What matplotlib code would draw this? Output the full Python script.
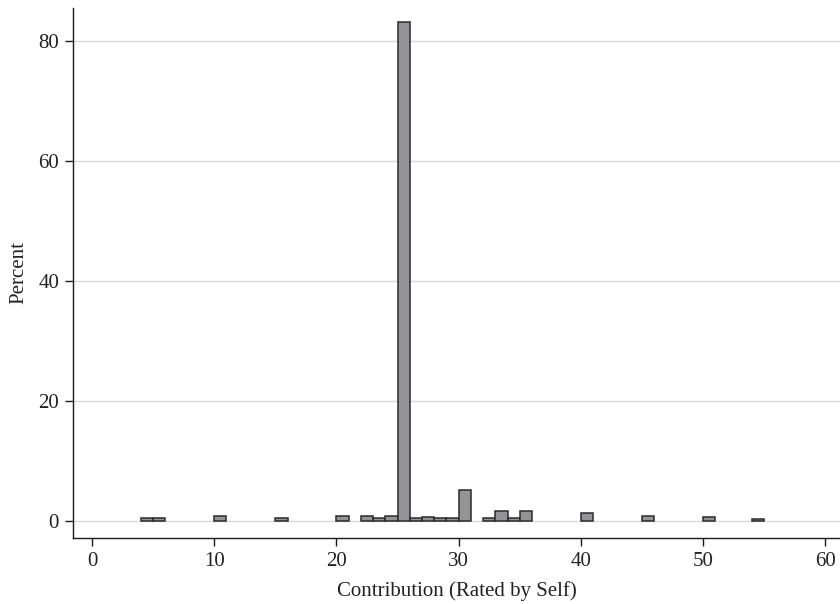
import numpy as np
import matplotlib.pyplot as plt

# left edges of the histogram bins (width 1) and their percentages
bin_left = [4, 5, 10, 15, 20, 22, 23, 24, 25, 26, 27, 28, 29, 30,
            32, 33, 34, 35, 40, 45, 50, 54]
percent = [0.45, 0.45, 0.9, 0.45, 0.9, 0.9, 0.45, 0.9, 83.2, 0.45, 0.7, 0.45, 0.55, 5.2,
           0.55, 1.6, 0.55, 1.6, 1.3, 0.85, 0.65, 0.4]
x_ticks = [0, 10, 20, 30, 40, 50, 60]
y_ticks = [0, 20, 40, 60, 80]

plt.rcParams['font.family'] = ['Liberation Serif', 'DejaVu Serif']

fig = plt.figure(figsize=(8.4, 6.04), dpi=100)
ax = fig.add_axes([73 / 840, 66 / 604, 767 / 840, 530 / 604])

ax.bar(bin_left, percent, width=1.0, align='edge', color='#939398',
       edgecolor='#2b2b2b', linewidth=1.1, zorder=3)

ax.set_xlim(-1.55, 61.2)
ax.set_ylim(-2.83, 85.5)
ax.set_xticks(x_ticks)
ax.set_yticks(y_ticks)
ax.yaxis.grid(True, color='#d9d9d9', linewidth=1.0, zorder=0)
ax.set_axisbelow(True)

for s in ['top', 'right']:
    ax.spines[s].set_visible(False)
for s in ['left', 'bottom']:
    ax.spines[s].set_color('#1a1a1a')
    ax.spines[s].set_linewidth(1.0)

ax.tick_params(axis='both', direction='out', length=6, width=1.0,
               color='#1a1a1a', labelsize=15, labelcolor='#222222')
ax.tick_params(axis='x', pad=4)
ax.tick_params(axis='y', pad=4)

ax.set_xlabel('Contribution (Rated by Self)', fontsize=15, color='#222222', labelpad=7)
ax.set_ylabel('Percent', fontsize=15, color='#222222', labelpad=7)

fig.savefig('out.png', dpi=100)
